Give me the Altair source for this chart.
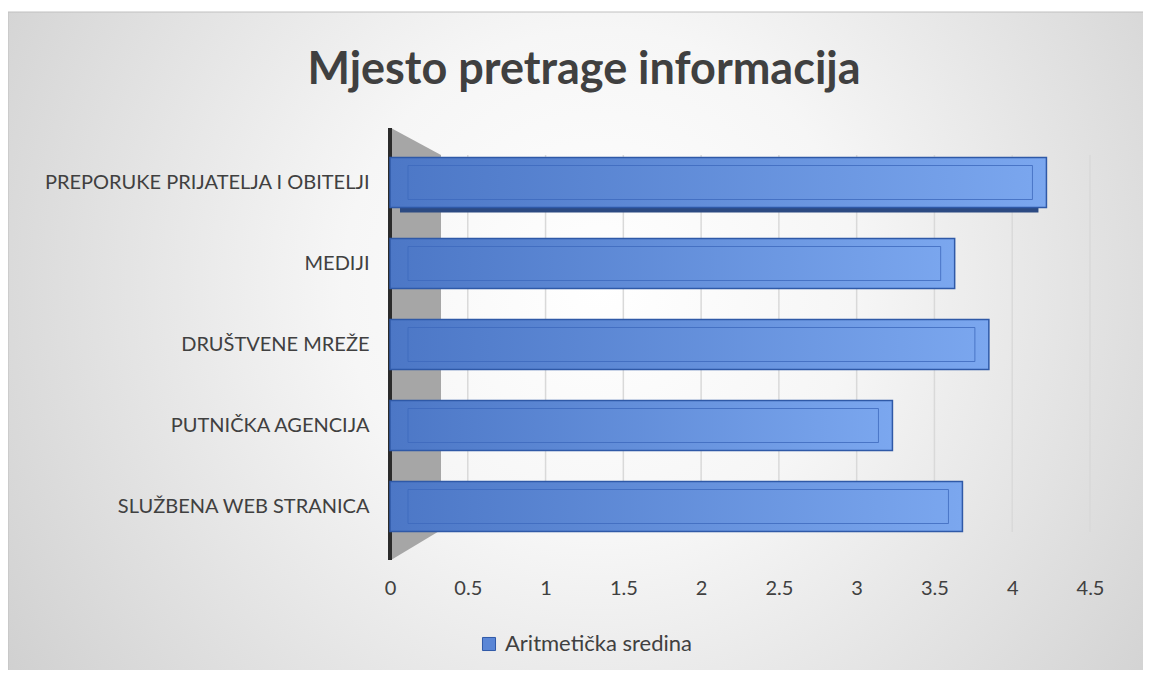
import altair as alt
import pandas as pd

# ---- data ----
categories = [
    "PREPORUKE PRIJATELJA I OBITELJI",
    "MEDIJI",
    "DRUŠTVENE MREŽE",
    "PUTNIČKA AGENCIJA",
    "SLUŽBENA WEB STRANICA",
]
values = [4.22, 3.63, 3.85, 3.23, 3.68]
series_name = "Aritmetička sredina"
x_ticks = [0, 0.5, 1, 1.5, 2, 2.5, 3, 3.5, 4, 4.5]
grid_ticks = [0.5, 1, 1.5, 2, 2.5, 3, 3.5, 4, 4.5]
title_text = "Mjesto pretrage informacija"

df = pd.DataFrame({
    "category": categories,
    "value": values,
    "series": [series_name] * len(categories),
    "zero": [0] * len(categories),
})
grid_df = pd.DataFrame({"tick": grid_ticks})

# ---- layout (pixels) ----
W, H = 700, 405
PAD_L, PAD_T = 382, 134
TOTAL_W, TOTAL_H = 1135, 662
PAD_R = TOTAL_W - PAD_L - W
PAD_B = TOTAL_H - PAD_T - H

FONT = "Lato"
TXT = "#404040"

x_scale = alt.Scale(domain=[0, 4.5], nice=False, zero=True)
y_scale = alt.Scale(domain=categories, paddingInner=0.38, paddingOuter=0.19)

x_axis = alt.Axis(values=x_ticks, format="~g", title=None, domain=False, ticks=False,
                  grid=False, labelFontSize=20, labelColor=TXT, labelFont=FONT,
                  labelPadding=31, labelFlush=False, labelOverlap=False, zindex=1)
y_axis = alt.Axis(title=None, domain=False, ticks=False, grid=False, labelFontSize=20,
                  labelColor=TXT, labelFont=FONT, labelPadding=21, labelLimit=500, zindex=1)

y_enc = alt.Y("category:N", scale=y_scale, sort=categories, axis=y_axis)

one = alt.Data(values=[{}])

bg = alt.Chart(one).mark_rect(
    fill=alt.RadialGradient(
        gradient="radial",
        stops=[alt.GradientStop(offset=0, color="#ffffff"),
               alt.GradientStop(offset=0.3, color="#f6f6f6"),
               alt.GradientStop(offset=1, color="#c4c4c4")],
        x1=0.52, y1=0.45, r1=0, x2=0.52, y2=0.45, r2=0.75),
    stroke="#c0c0c0", strokeWidth=1, clip=False,
).encode(x=alt.value(-PAD_L), x2=alt.value(W + PAD_R + 2), y=alt.value(-130), y2=alt.value(H + PAD_B + 2))

wall = alt.Chart(one).mark_point(
    shape="M0,-216L50,-189L50,186L0,216Z", size=4, filled=True,
    fill="#a6a6a6", opacity=1, strokeWidth=0,
).encode(x=alt.value(1), y=alt.value(202))

grid = alt.Chart(grid_df).mark_rule(color="#d9d9d9", strokeWidth=1.5).encode(
    x=alt.X("tick:Q", scale=x_scale, axis=x_axis),
    y=alt.value(13), y2=alt.value(390),
)

yline = alt.Chart(one).mark_rule(color="#2b2b2b", strokeWidth=4).encode(
    x=alt.value(0), y=alt.value(-14), y2=alt.value(418)
)

underside = alt.Chart(df).transform_filter(
    alt.datum.category == categories[0]
).mark_bar(size=50, fill="#2c4a82", yOffset=5, xOffset=10, x2Offset=-8).encode(
    x=alt.X("zero:Q", scale=x_scale, axis=x_axis),
    x2="value:Q",
    y=y_enc,
)

bars_legend = alt.Chart(df).mark_bar(size=50).encode(
    x=alt.X("value:Q", scale=x_scale, axis=x_axis),
    y=y_enc,
    color=alt.Color("series:N", scale=alt.Scale(range=["#5a86d6"]),
                    legend=alt.Legend(title=None, orient="none", legendX=88, legendY=491,
                                      symbolType="square", symbolSize=170,
                                      symbolStrokeColor="#2f59a7", symbolStrokeWidth=1,
                                      symbolOpacity=1, labelFontSize=22, labelFont=FONT,
                                      labelColor=TXT, labelLimit=500, labelOffset=5,
                                      padding=0)),
)

bars = alt.Chart(df).mark_bar(
    size=50,
    fill=alt.LinearGradient(
        gradient="linear",
        stops=[alt.GradientStop(offset=0, color="#4c77c6"),
               alt.GradientStop(offset=1, color="#7ba7ef")],
        x1=0, x2=1, y1=0, y2=0),
    stroke="#2f59a7", strokeWidth=1.5,
).encode(
    x=alt.X("value:Q", scale=x_scale, axis=x_axis),
    y=y_enc,
)

bevel = alt.Chart(df).mark_bar(
    size=34, fillOpacity=0, stroke="#3d69bd", strokeOpacity=0.8, strokeWidth=1,
    xOffset=18, x2Offset=-14,
).encode(
    x=alt.X("zero:Q", scale=x_scale, axis=x_axis),
    x2="value:Q",
    y=y_enc,
)

chart = alt.layer(bg, wall, grid, yline, underside, bars_legend, bars, bevel).properties(
    width=W, height=H,
    autosize=alt.AutoSizeParams(type="none"),
    padding={"left": PAD_L, "top": PAD_T, "right": PAD_R, "bottom": PAD_B},
    title=alt.Title(text=title_text, fontSize=45, font=FONT, fontWeight="bold", color=TXT,
                    anchor="middle", frame="group", offset=0, baseline="alphabetic",
                    dx=-156, dy=117),
).configure_view(strokeWidth=0)

chart.save("out.html", embed_options={"renderer": "svg", "actions": False})
